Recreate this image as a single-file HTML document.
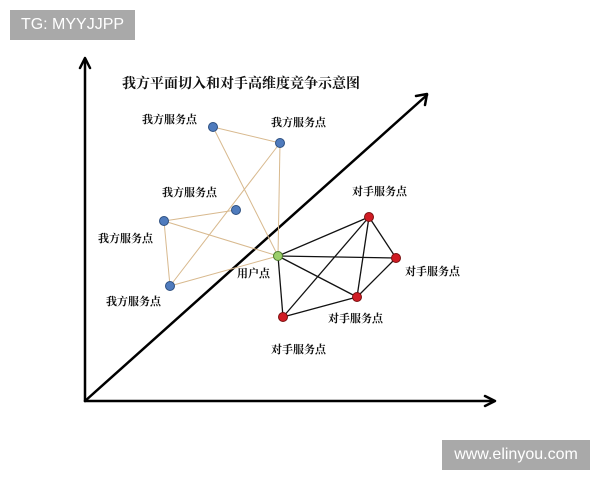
<!DOCTYPE html>
<html><head><meta charset="utf-8"><style>
html,body{margin:0;padding:0;background:#fff;width:600px;height:480px;overflow:hidden;position:relative}
.wm{position:absolute;background:#a9a9a9;color:#fff;font-family:"Liberation Sans",sans-serif;font-size:16px;line-height:30px;text-align:center}
svg text{font-family:"Liberation Serif","Noto Serif CJK SC",serif;font-size:11px;fill:#111;font-weight:bold}
</style></head><body>
<svg width="600" height="480" style="position:absolute;left:0;top:0">
<g stroke="#000" stroke-width="2.5" fill="none" stroke-linecap="round" stroke-linejoin="round">
<line x1="85" y1="401" x2="85" y2="60"/><polyline points="80,68 85,58 90,68"/>
<line x1="85" y1="401" x2="494" y2="401"/><polyline points="485,396 495,401 485,406"/>
<line x1="85" y1="401" x2="427" y2="95"/><polyline points="416,96 427,94 425,105"/>
</g>
<g stroke="#d8b98e" stroke-width="1">
<line x1="213" y1="127" x2="280" y2="143"/>
<line x1="213" y1="127" x2="278" y2="256"/>
<line x1="280" y1="143" x2="278" y2="256"/>
<line x1="280" y1="143" x2="170" y2="286"/>
<line x1="164" y1="221" x2="236" y2="210"/>
<line x1="164" y1="221" x2="278" y2="256"/>
<line x1="164" y1="221" x2="170" y2="286"/>
<line x1="170" y1="286" x2="278" y2="256"/>
</g>
<g stroke="#111" stroke-width="1.3">
<line x1="278" y1="256" x2="369" y2="217"/>
<line x1="278" y1="256" x2="396" y2="258"/>
<line x1="278" y1="256" x2="357" y2="297"/>
<line x1="278" y1="256" x2="283" y2="317"/>
<line x1="369" y1="217" x2="396" y2="258"/>
<line x1="369" y1="217" x2="357" y2="297"/>
<line x1="369" y1="217" x2="283" y2="317"/>
<line x1="396" y1="258" x2="357" y2="297"/>
<line x1="283" y1="317" x2="357" y2="297"/>
</g>
<g fill="#4f7bbd" stroke="#2d4f80" stroke-width="1">
<circle cx="213" cy="127" r="4.5"/><circle cx="280" cy="143" r="4.5"/><circle cx="236" cy="210" r="4.5"/><circle cx="164" cy="221" r="4.5"/><circle cx="170" cy="286" r="4.5"/>
</g>
<circle cx="278" cy="256" r="4.5" fill="#9ccf6a" stroke="#4d7a2d"/>
<g fill="#d01c24" stroke="#7a1010" stroke-width="1">
<circle cx="369" cy="217" r="4.5"/><circle cx="396" cy="258" r="4.5"/><circle cx="357" cy="297" r="4.5"/><circle cx="283" cy="317" r="4.5"/>
</g>
<text x="122" y="88" style="font-size:14px">我方平面切入和对手高维度竞争示意图</text>
<text x="142" y="123">我方服务点</text>
<text x="271" y="126">我方服务点</text>
<text x="162" y="196">我方服务点</text>
<text x="98" y="242">我方服务点</text>
<text x="106" y="305">我方服务点</text>
<text x="237" y="277">用户点</text>
<text x="352" y="195">对手服务点</text>
<text x="405" y="275">对手服务点</text>
<text x="328" y="322">对手服务点</text>
<text x="271" y="353">对手服务点</text>
</svg>
<div class="wm" style="left:10px;top:10px;width:125px">TG: MYYJJPP</div>
<div class="wm" style="left:442px;top:440px;width:148px">www.elinyou.com</div>
</body></html>
